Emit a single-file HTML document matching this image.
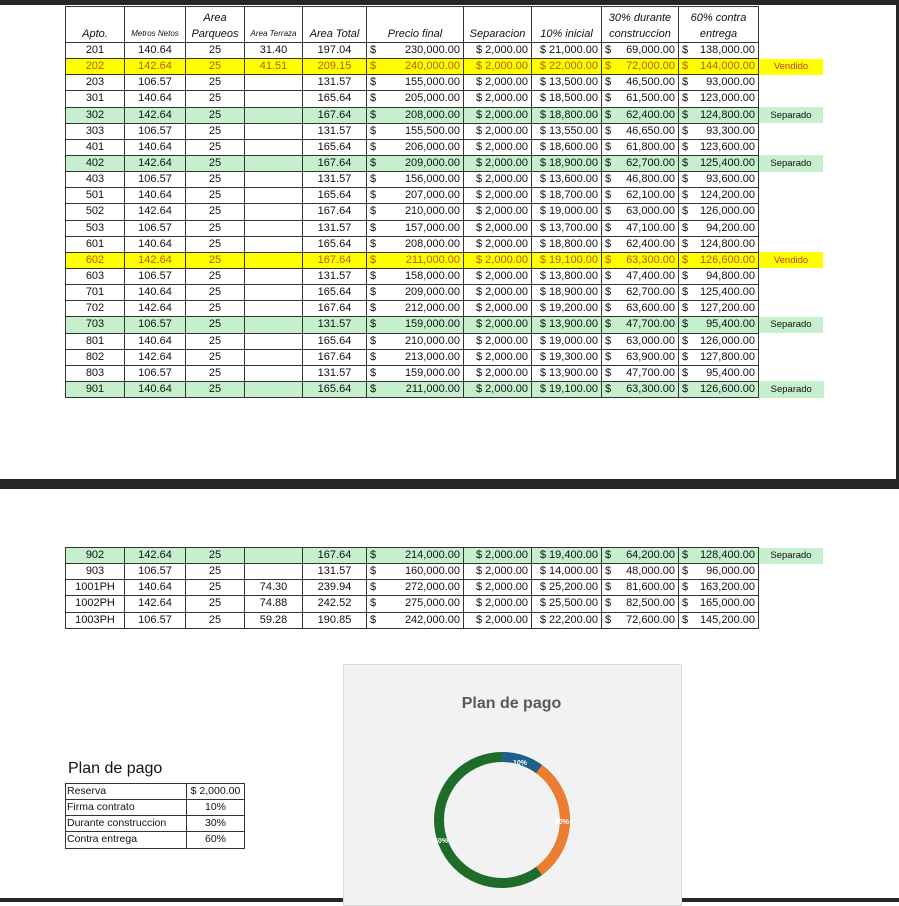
<!DOCTYPE html>
<html><head><meta charset="utf-8"><style>
body{margin:0;width:899px;height:902px;background:#fff;position:relative;overflow:hidden;font-family:"Liberation Sans",sans-serif;}
.bar{position:absolute;background:#262626;}
table{position:absolute;border-collapse:collapse;table-layout:fixed;font-size:11px;color:#111;}
td{border:1px solid #333;padding:0 3px;text-align:center;white-space:nowrap;overflow:hidden;height:15.15px;line-height:15px;}
td.st{border:none;font-size:9.5px;}
th{border:1px solid #333;font-weight:normal;font-style:italic;font-size:11px;vertical-align:bottom;line-height:16px;padding:0 2px;}
th.sm{font-size:8px;}
th.n{border:none;}
.d{text-align:left;}.d span{float:right;}
.r{text-align:right;}
tr.y td{background:#ffff00;color:#b85c00;}
tr.g td{background:#c6efce;}
tr.y td.st{color:#c0392b;}
</style></head><body>
<div class="bar" style="left:0;top:0;width:899px;height:5px"></div>
<div class="bar" style="left:896px;top:0;width:3px;height:489px"></div>
<div class="bar" style="left:0;top:479px;width:899px;height:10px"></div>
<div class="bar" style="left:0;top:898px;width:899px;height:4px"></div>

<table style="left:65px;top:6px;width:759px">
<colgroup><col style="width:59px"><col style="width:61px"><col style="width:59px"><col style="width:58px"><col style="width:64px"><col style="width:97px"><col style="width:68px"><col style="width:70px"><col style="width:77px"><col style="width:80px"><col style="width:65px"></colgroup>
<tr style="height:36px"><th>Apto.</th><th class="sm">Metros Netos</th><th>Area<br>Parqueos</th><th class="sm">Area Terraza</th><th>Area Total</th><th>Precio final</th><th>Separacion</th><th>10% inicial</th><th>30% durante<br>construccion</th><th>60% contra<br>entrega</th><th class="n"></th></tr>
<tr><td>201</td><td>140.64</td><td>25</td><td>31.40</td><td>197.04</td><td class="d">$<span>230,000.00</span></td><td class="r">$ 2,000.00</td><td class="r">$ 21,000.00</td><td class="d">$<span>69,000.00</span></td><td class="d">$<span>138,000.00</span></td><td class="st"></td></tr>
<tr class="y"><td>202</td><td>142.64</td><td>25</td><td>41.51</td><td>209.15</td><td class="d">$<span>240,000.00</span></td><td class="r">$ 2,000.00</td><td class="r">$ 22,000.00</td><td class="d">$<span>72,000.00</span></td><td class="d">$<span>144,000.00</span></td><td class="st">Vendido</td></tr>
<tr><td>203</td><td>106.57</td><td>25</td><td></td><td>131.57</td><td class="d">$<span>155,000.00</span></td><td class="r">$ 2,000.00</td><td class="r">$ 13,500.00</td><td class="d">$<span>46,500.00</span></td><td class="d">$<span>93,000.00</span></td><td class="st"></td></tr>
<tr><td>301</td><td>140.64</td><td>25</td><td></td><td>165.64</td><td class="d">$<span>205,000.00</span></td><td class="r">$ 2,000.00</td><td class="r">$ 18,500.00</td><td class="d">$<span>61,500.00</span></td><td class="d">$<span>123,000.00</span></td><td class="st"></td></tr>
<tr class="g"><td>302</td><td>142.64</td><td>25</td><td></td><td>167.64</td><td class="d">$<span>208,000.00</span></td><td class="r">$ 2,000.00</td><td class="r">$ 18,800.00</td><td class="d">$<span>62,400.00</span></td><td class="d">$<span>124,800.00</span></td><td class="st">Separado</td></tr>
<tr><td>303</td><td>106.57</td><td>25</td><td></td><td>131.57</td><td class="d">$<span>155,500.00</span></td><td class="r">$ 2,000.00</td><td class="r">$ 13,550.00</td><td class="d">$<span>46,650.00</span></td><td class="d">$<span>93,300.00</span></td><td class="st"></td></tr>
<tr><td>401</td><td>140.64</td><td>25</td><td></td><td>165.64</td><td class="d">$<span>206,000.00</span></td><td class="r">$ 2,000.00</td><td class="r">$ 18,600.00</td><td class="d">$<span>61,800.00</span></td><td class="d">$<span>123,600.00</span></td><td class="st"></td></tr>
<tr class="g"><td>402</td><td>142.64</td><td>25</td><td></td><td>167.64</td><td class="d">$<span>209,000.00</span></td><td class="r">$ 2,000.00</td><td class="r">$ 18,900.00</td><td class="d">$<span>62,700.00</span></td><td class="d">$<span>125,400.00</span></td><td class="st">Separado</td></tr>
<tr><td>403</td><td>106.57</td><td>25</td><td></td><td>131.57</td><td class="d">$<span>156,000.00</span></td><td class="r">$ 2,000.00</td><td class="r">$ 13,600.00</td><td class="d">$<span>46,800.00</span></td><td class="d">$<span>93,600.00</span></td><td class="st"></td></tr>
<tr><td>501</td><td>140.64</td><td>25</td><td></td><td>165.64</td><td class="d">$<span>207,000.00</span></td><td class="r">$ 2,000.00</td><td class="r">$ 18,700.00</td><td class="d">$<span>62,100.00</span></td><td class="d">$<span>124,200.00</span></td><td class="st"></td></tr>
<tr><td>502</td><td>142.64</td><td>25</td><td></td><td>167.64</td><td class="d">$<span>210,000.00</span></td><td class="r">$ 2,000.00</td><td class="r">$ 19,000.00</td><td class="d">$<span>63,000.00</span></td><td class="d">$<span>126,000.00</span></td><td class="st"></td></tr>
<tr><td>503</td><td>106.57</td><td>25</td><td></td><td>131.57</td><td class="d">$<span>157,000.00</span></td><td class="r">$ 2,000.00</td><td class="r">$ 13,700.00</td><td class="d">$<span>47,100.00</span></td><td class="d">$<span>94,200.00</span></td><td class="st"></td></tr>
<tr><td>601</td><td>140.64</td><td>25</td><td></td><td>165.64</td><td class="d">$<span>208,000.00</span></td><td class="r">$ 2,000.00</td><td class="r">$ 18,800.00</td><td class="d">$<span>62,400.00</span></td><td class="d">$<span>124,800.00</span></td><td class="st"></td></tr>
<tr class="y"><td>602</td><td>142.64</td><td>25</td><td></td><td>167.64</td><td class="d">$<span>211,000.00</span></td><td class="r">$ 2,000.00</td><td class="r">$ 19,100.00</td><td class="d">$<span>63,300.00</span></td><td class="d">$<span>126,600.00</span></td><td class="st">Vendido</td></tr>
<tr><td>603</td><td>106.57</td><td>25</td><td></td><td>131.57</td><td class="d">$<span>158,000.00</span></td><td class="r">$ 2,000.00</td><td class="r">$ 13,800.00</td><td class="d">$<span>47,400.00</span></td><td class="d">$<span>94,800.00</span></td><td class="st"></td></tr>
<tr><td>701</td><td>140.64</td><td>25</td><td></td><td>165.64</td><td class="d">$<span>209,000.00</span></td><td class="r">$ 2,000.00</td><td class="r">$ 18,900.00</td><td class="d">$<span>62,700.00</span></td><td class="d">$<span>125,400.00</span></td><td class="st"></td></tr>
<tr><td>702</td><td>142.64</td><td>25</td><td></td><td>167.64</td><td class="d">$<span>212,000.00</span></td><td class="r">$ 2,000.00</td><td class="r">$ 19,200.00</td><td class="d">$<span>63,600.00</span></td><td class="d">$<span>127,200.00</span></td><td class="st"></td></tr>
<tr class="g"><td>703</td><td>106.57</td><td>25</td><td></td><td>131.57</td><td class="d">$<span>159,000.00</span></td><td class="r">$ 2,000.00</td><td class="r">$ 13,900.00</td><td class="d">$<span>47,700.00</span></td><td class="d">$<span>95,400.00</span></td><td class="st">Separado</td></tr>
<tr><td>801</td><td>140.64</td><td>25</td><td></td><td>165.64</td><td class="d">$<span>210,000.00</span></td><td class="r">$ 2,000.00</td><td class="r">$ 19,000.00</td><td class="d">$<span>63,000.00</span></td><td class="d">$<span>126,000.00</span></td><td class="st"></td></tr>
<tr><td>802</td><td>142.64</td><td>25</td><td></td><td>167.64</td><td class="d">$<span>213,000.00</span></td><td class="r">$ 2,000.00</td><td class="r">$ 19,300.00</td><td class="d">$<span>63,900.00</span></td><td class="d">$<span>127,800.00</span></td><td class="st"></td></tr>
<tr><td>803</td><td>106.57</td><td>25</td><td></td><td>131.57</td><td class="d">$<span>159,000.00</span></td><td class="r">$ 2,000.00</td><td class="r">$ 13,900.00</td><td class="d">$<span>47,700.00</span></td><td class="d">$<span>95,400.00</span></td><td class="st"></td></tr>
<tr class="g"><td>901</td><td>140.64</td><td>25</td><td></td><td>165.64</td><td class="d">$<span>211,000.00</span></td><td class="r">$ 2,000.00</td><td class="r">$ 19,100.00</td><td class="d">$<span>63,300.00</span></td><td class="d">$<span>126,600.00</span></td><td class="st">Separado</td></tr>
</table>

<table style="left:65px;top:547px;width:759px">
<colgroup><col style="width:59px"><col style="width:61px"><col style="width:59px"><col style="width:58px"><col style="width:64px"><col style="width:97px"><col style="width:68px"><col style="width:70px"><col style="width:77px"><col style="width:80px"><col style="width:65px"></colgroup>
<tr class="g"><td>902</td><td>142.64</td><td>25</td><td></td><td>167.64</td><td class="d">$<span>214,000.00</span></td><td class="r">$ 2,000.00</td><td class="r">$ 19,400.00</td><td class="d">$<span>64,200.00</span></td><td class="d">$<span>128,400.00</span></td><td class="st">Separado</td></tr>
<tr><td>903</td><td>106.57</td><td>25</td><td></td><td>131.57</td><td class="d">$<span>160,000.00</span></td><td class="r">$ 2,000.00</td><td class="r">$ 14,000.00</td><td class="d">$<span>48,000.00</span></td><td class="d">$<span>96,000.00</span></td><td class="st"></td></tr>
<tr><td>1001PH</td><td>140.64</td><td>25</td><td>74.30</td><td>239.94</td><td class="d">$<span>272,000.00</span></td><td class="r">$ 2,000.00</td><td class="r">$ 25,200.00</td><td class="d">$<span>81,600.00</span></td><td class="d">$<span>163,200.00</span></td><td class="st"></td></tr>
<tr><td>1002PH</td><td>142.64</td><td>25</td><td>74.88</td><td>242.52</td><td class="d">$<span>275,000.00</span></td><td class="r">$ 2,000.00</td><td class="r">$ 25,500.00</td><td class="d">$<span>82,500.00</span></td><td class="d">$<span>165,000.00</span></td><td class="st"></td></tr>
<tr><td>1003PH</td><td>106.57</td><td>25</td><td>59.28</td><td>190.85</td><td class="d">$<span>242,000.00</span></td><td class="r">$ 2,000.00</td><td class="r">$ 22,200.00</td><td class="d">$<span>72,600.00</span></td><td class="d">$<span>145,200.00</span></td><td class="st"></td></tr>
</table>

<div style="position:absolute;left:68px;top:760px;font-size:16px;color:#111">Plan de pago</div>
<table style="left:65px;top:783px;width:179px;font-size:10.5px">
<colgroup><col style="width:121px"><col style="width:58px"></colgroup>
<tr><td style="text-align:left;padding:0 1px">Reserva</td><td>$ 2,000.00</td></tr>
<tr><td style="text-align:left;padding:0 1px">Firma contrato</td><td>10%</td></tr>
<tr><td style="text-align:left;padding:0 1px">Durante construccion</td><td>30%</td></tr>
<tr><td style="text-align:left;padding:0 1px">Contra entrega</td><td>60%</td></tr>
</table>

<div style="position:absolute;left:343px;top:664px;width:337px;height:240px;background:#f2f2f2;border:1px solid #d9d9d9"></div>
<div style="position:absolute;left:343px;top:695px;width:337px;text-align:center;font-size:16px;font-weight:bold;color:#595959">Plan de pago</div>
<svg style="position:absolute;left:0;top:0" width="899" height="902">
<g transform="translate(502,820)" fill="none" stroke-width="10">
<circle r="63" stroke="#1e6b2a" />
<path d="M0,-63 A63,63 0 0 1 37.03,-50.97" stroke="#1f5f8b"/>
<path d="M37.03,-50.97 A63,63 0 0 1 37.03,50.97" stroke="#ed7d31"/>
</g>
<g font-family="Liberation Sans" font-size="7" font-weight="bold" fill="#fff">
<text x="513" y="765">10%</text><text x="555" y="824">30%</text><text x="434" y="843">60%</text>
</g>
</svg>
</body></html>
